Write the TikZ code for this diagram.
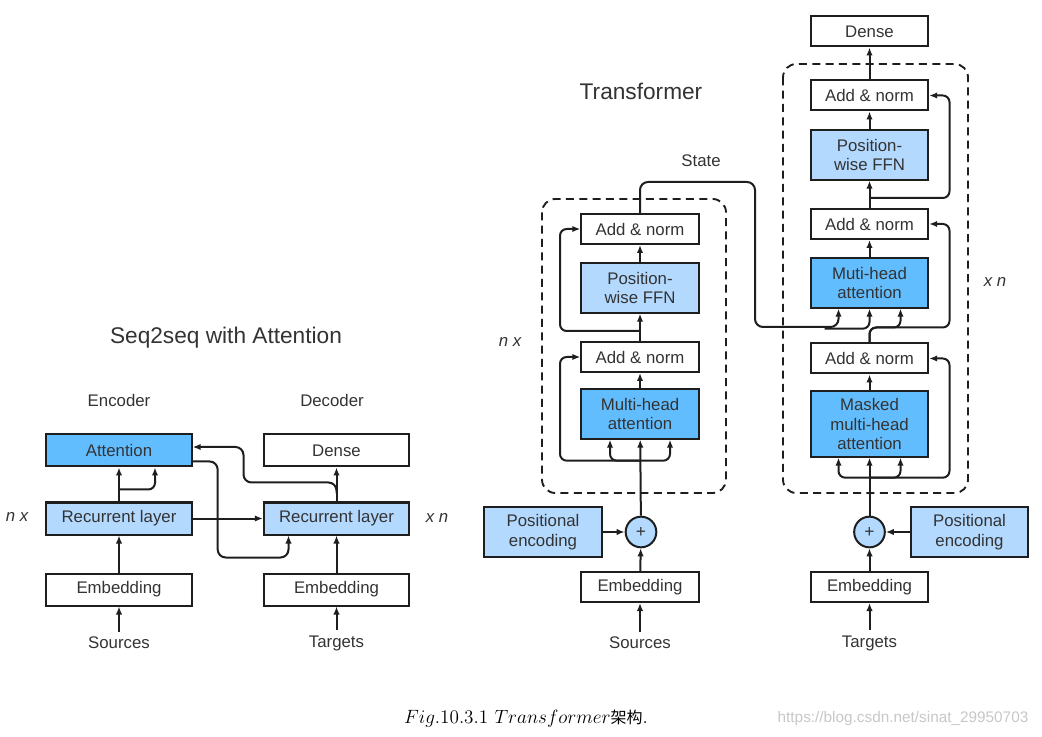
\documentclass[tikz,border=0pt]{standalone}
\usepackage{fontspec}
\setsansfont{Liberation Sans}
\newfontfamily\cjkfont{Noto Sans CJK SC}
\usetikzlibrary{arrows.meta,calc}

\definecolor{attblue}{HTML}{62BDFF}
\definecolor{layblue}{HTML}{B3D9FF}
\definecolor{linegray}{HTML}{1E1E1E}
\definecolor{txtgray}{HTML}{333333}

\tikzset{
  box/.style={rectangle, draw=linegray, line width=1.5pt, text=txtgray, align=center,
    inner sep=0pt, font=\sffamily\fontsize{12.6}{14.6}\selectfont},
  wbox/.style={box, minimum width=109pt, minimum height=24pt},
  nbox/.style={box, minimum width=88pt, minimum height=22.5pt},
  tall/.style={minimum height=37pt},
  plus/.style={circle, draw=linegray, line width=1.5pt, fill=layblue, minimum size=23pt,
    inner sep=0pt, text=txtgray, font=\sffamily\fontsize{13}{14}\selectfont},
  lbl/.style={text=txtgray, font=\sffamily\fontsize{12.6}{14.6}\selectfont},
  it/.style={text=txtgray, font=\sffamily\itshape\fontsize{12.6}{14.6}\selectfont},
  ttl/.style={text=txtgray, font=\sffamily\fontsize{17}{20}\selectfont},
  loopbox/.style={line width=1.4pt, dash pattern=on 6pt off 4pt, rounded corners=10pt}
}

\begin{document}
\begin{tikzpicture}[x=0.75pt, y=-0.75pt, color=linegray, line width=1.5pt,
  >={Latex[length=6pt,width=4.8pt]}]
  \useasboundingbox (0,0) rectangle (1042,737);

  % seq2seq with attention
  \path (226,338) node[ttl](tS2S){Seq2seq with Attention}
    (119,400) node[lbl](tEnc){Encoder}
    (332,400) node[lbl](tDec){Decoder}
    (119,450.5) node[wbox, fill=attblue](att){Attention}
    (336.5,450.5) node[wbox](dns){Dense}
    (119,518.5) node[wbox, fill=layblue](recE){Recurrent layer}
    (336.5,518.5) node[wbox, fill=layblue](recD){Recurrent layer}
    (119,589.5) node[wbox](embL){Embedding}
    (336.5,589.5) node[wbox](embR){Embedding}
    (119,643) node[lbl](srcL){Sources}
    (336.5,643) node[lbl](tgtL){Targets}
    (17,517) node[it](nxL){n x}
    (437,518) node[it](xnL){x n};

  \draw[->](srcL) -- (embL);
  \draw[->](embL) -- (recE);
  \draw[->](recE) -- (att);
  \draw[->, rounded corners=5pt]($(recE.north)+(0,-12)$) -| ($(att.south)+(36,0)$);
  \draw[->](recE) -- (recD);
  \draw[->, rounded corners=6pt]($(att.east)+(0,11)$) -- ++(25,0) -- ++(0,96) -| ($(recD.south)+(-48,0)$);
  \draw[->](tgtL) -- (embR);
  \draw[->](embR) -- (recD);
  \draw[->](recD) -- (dns);
  \draw[->, rounded corners=6pt]($(recD.north)+(0,-8)$) -- ++(0,-11) -- ++(-93,0) |- ($(att.east)+(0,-3.5)$);

  % transformer encoder
  \draw[loopbox] (542,199) rectangle (726,493);
  \path (641,91) node[ttl](tTr){Transformer}
    (701,161) node[lbl](tSt){State}
    (640,229) node[nbox](anE2){Add \& norm}
    (640,288) node[nbox, tall, fill=layblue](ffnE){Position-\\wise FFN}
    (640,357) node[nbox](anE1){Add \& norm}
    (640,414) node[nbox, tall, fill=attblue](mhaE){Multi-head\\attention}
    (641,532) node[plus](addE){+}
    (543,532) node[nbox, tall, fill=layblue](posE){Positional\\encoding}
    (640,587) node[nbox](embE){Embedding}
    (640,643) node[lbl](srcE){Sources}
    (510,342) node[it](nxE){n x};

  \draw[->](srcE) -- (embE);
  \draw[->](embE) -- (addE);
  \draw[->](posE) -- (addE);
  \draw[->](addE) -- (mhaE);
  \coordinate (jE1) at ($(mhaE.south)+(0,21)$);
  \draw[->, rounded corners=5pt](jE1) -| ($(mhaE.south)+(-30,0)$);
  \draw[->, rounded corners=5pt](jE1) -| ($(mhaE.south)+(30,0)$);
  \draw[->, rounded corners=5pt](jE1) -- ++(-80,0) |- (anE1.west);
  \draw[->](mhaE) -- (anE1);
  \draw[->](anE1) -- (ffnE);
  \coordinate (jE2) at ($(anE1.north)+(0,-10)$);
  \draw[->, rounded corners=5pt](jE2) -- ++(-80,0) |- (anE2.west);
  \draw[->](ffnE) -- (anE2);

  % transformer decoder
  \draw[loopbox] (783,64) rectangle (968,493);
  \path (869.5,31.5) node[nbox](dnsD){Dense}
    (869.5,95.5) node[nbox](anD3){Add \& norm}
    (869.5,155) node[nbox, tall, fill=layblue](ffnD){Position-\\wise FFN}
    (869.5,224) node[nbox](anD2){Add \& norm}
    (869.5,283) node[nbox, tall, fill=attblue](mhaD){Muti-head\\attention}
    (869.5,358.5) node[nbox](anD1){Add \& norm}
    (869.5,424) node[nbox, minimum height=49pt, fill=attblue](mmhaD){Masked\\multi-head\\attention}
    (869.5,532) node[plus](addD){+}
    (969.5,532) node[nbox, tall, fill=layblue](posD){Positional\\encoding}
    (869.5,587) node[nbox](embD){Embedding}
    (869.5,643) node[lbl](tgtD){Targets}
    (995,282) node[it](xnD){x n};

  \draw[->](tgtD) -- (embD);
  \draw[->](embD) -- (addD);
  \draw[->](posD) -- (addD);
  \draw[->](addD) -- (mmhaD);
  \coordinate (jD1) at ($(mmhaD.south)+(0,20)$);
  \draw[->, rounded corners=5pt](jD1) -| ($(mmhaD.south)+(-31,0)$);
  \draw[->, rounded corners=5pt](jD1) -| ($(mmhaD.south)+(31,0)$);
  \draw[->, rounded corners=5pt](jD1) -- ++(80,0) |- (anD1.east);
  \draw[->](mmhaD) -- (anD1);
  % state from the encoder
  \draw[->, rounded corners=6pt](anE2.north) -- ++(0,-31) -- ++(115,0) -- ++(0,145) -| ($(mhaD.south)+(-31,0)$);
  \draw[->, rounded corners=5pt]($(mhaD.south)+(-45,20)$) -| (mhaD.south);
  \coordinate (jD2) at ($(anD1.north)+(0,-15)$);
  \draw[->, rounded corners=5pt](anD1.north) -- (jD2) -| ($(mhaD.south)+(31,0)$);
  \draw[->, rounded corners=5pt](anD1.north) -- (jD2) -- ++(80,0) |- (anD2.east);
  \draw[->](mhaD) -- (anD2);
  \draw[->](anD2) -- (ffnD);
  \coordinate (jD3) at ($(anD2.north)+(0,-10)$);
  \draw[->, rounded corners=5pt](jD3) -- ++(80,0) |- (anD3.east);
  \draw[->](ffnD) -- (anD3);
  \draw[->](anD3) -- (dnsD);

  % caption
  \path (526,719) node[text=black, font=\fontsize{14.5}{16}\selectfont](cap){$Fig.10.3.1\ Transformer${\cjkfont\fontsize{12}{14}\selectfont 架构}.}
    (903,719) node[text=black!22, font=\sffamily\fontsize{11.5}{13}\selectfont](wm){https://blog.csdn.net/sinat\_29950703};
\end{tikzpicture}
\end{document}
